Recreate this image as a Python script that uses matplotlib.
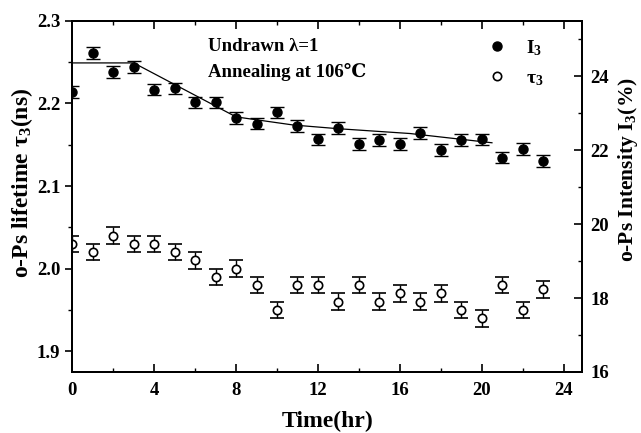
import numpy as np
import matplotlib
matplotlib.use("Agg")
import matplotlib.pyplot as plt
from matplotlib.lines import Line2D
from matplotlib.ticker import MultipleLocator

# ---- data ----
time_hr = [0, 1, 2, 3, 4, 5, 6, 7, 8, 9, 10, 11, 12, 13, 14, 15, 16, 17, 18, 19, 20, 21, 22, 23]
tau3 = [2.030, 2.020, 2.040, 2.030, 2.030, 2.020, 2.010, 1.990, 2.000, 1.980, 1.950, 1.980,
        1.980, 1.960, 1.980, 1.960, 1.970, 1.960, 1.970, 1.950, 1.940, 1.980, 1.950, 1.975]
tau3_err = [0.01] * 24
I3 = [23.58, 24.63, 24.12, 24.25, 23.64, 23.67, 23.29, 23.29, 22.87, 22.72, 23.02, 22.66,
      22.29, 22.59, 22.16, 22.27, 22.16, 22.47, 22.00, 22.27, 22.29, 21.80, 22.03, 21.70]
I3_err = [0.16] * 24

# fitted guide line through I3
fit_t = [0, 3, 8, 10.8, 13, 16.5, 20.5]
fit_I3 = [24.36, 24.36, 22.90, 22.68, 22.58, 22.45, 22.20]

# ---- style ----
plt.rcParams['font.family'] = ['Liberation Serif', 'DejaVu Serif']
plt.rcParams['font.weight'] = 'bold'
plt.rcParams['mathtext.fontset'] = 'custom'
plt.rcParams['mathtext.rm'] = 'Liberation Serif:bold'
plt.rcParams['mathtext.it'] = 'Liberation Serif:bold'
plt.rcParams['mathtext.bf'] = 'Liberation Serif:bold'

fig = plt.figure(figsize=(6.41, 4.33), dpi=100)
ax = fig.add_axes([0.1128, 0.141, 0.908 - 0.1128, 0.952 - 0.141])
ax2 = ax.twinx()

# tau3 (open circles, left axis)
ax.errorbar(time_hr, tau3, yerr=tau3_err, fmt='o', mfc='white', mec='black', mew=1.2,
            ms=6, ecolor='black', elinewidth=1.0, capsize=5, capthick=1.0, zorder=3)

# I3 (filled circles, right axis)
ax2.errorbar(time_hr, I3, yerr=I3_err, fmt='o', color='black', ms=6.5,
             ecolor='black', elinewidth=1.0, capsize=5, capthick=1.0, zorder=3)
ax2.plot(fit_t, fit_I3, color='black', lw=0.9, zorder=2)

# axes ranges & ticks
ax.set_xlim(0, 24.9)
ax.set_ylim(1.875, 2.3)
ax2.set_ylim(16, 25.5)

ax.xaxis.set_major_locator(MultipleLocator(4))
ax.xaxis.set_minor_locator(MultipleLocator(2))
ax.yaxis.set_major_locator(MultipleLocator(0.1))
ax.yaxis.set_minor_locator(MultipleLocator(0.05))
ax2.yaxis.set_major_locator(MultipleLocator(2))
ax2.yaxis.set_minor_locator(MultipleLocator(1))
ax.yaxis.set_major_formatter(plt.FormatStrFormatter('%.1f'))

ax.tick_params(axis='x', which='both', direction='in', top=True, labelsize=13.5, pad=7)
ax.tick_params(axis='x', which='major', length=6, width=1.2)
ax.tick_params(axis='x', which='minor', length=3, width=1.0)
ax.tick_params(axis='y', which='both', direction='out', labelsize=13.5)
ax.tick_params(axis='y', which='major', length=5, width=1.2)
ax.tick_params(axis='y', which='minor', length=3, width=1.0)
ax2.tick_params(axis='y', which='both', direction='in', labelsize=13.5, pad=6)
ax2.tick_params(axis='y', which='major', length=6, width=1.2)
ax2.tick_params(axis='y', which='minor', length=3, width=1.0)

for a in (ax, ax2):
    for s in a.spines.values():
        s.set_linewidth(1.4)

ax.set_xlabel('Time(hr)', fontsize=17, fontweight='bold', labelpad=9)
ax.set_ylabel('o-Ps lifetime τ$_{3}$(ns)', fontsize=17, fontweight='bold')
ax.yaxis.set_label_coords(-0.073, 0.538)
ax2.set_ylabel('o-Ps Intensity I$_{3}$(%)', fontsize=15.5, fontweight='bold')
ax2.yaxis.set_label_coords(1.066, 0.575)

# annotations
ax.text(0.266, 0.926, 'Undrawn λ=1', transform=ax.transAxes, fontsize=13.5,
        fontweight='bold', va='center', ha='left')
ax.text(0.266, 0.855, 'Annealing at 106℃', transform=ax.transAxes, fontsize=13.5,
        fontweight='bold', va='center', ha='left')

handles = [Line2D([], [], ls='none', marker='o', color='black', ms=6.5),
           Line2D([], [], ls='none', marker='o', mfc='white', mec='black', mew=1.2, ms=6)]
ax2.legend(handles, ['I$_{3}$', 'τ$_{3}$'], loc='upper left',
           bbox_to_anchor=(0.78, 1.0), frameon=False, fontsize=14,
           handletextpad=1.0, labelspacing=0.6, handlelength=1.0)

fig.savefig('out.png', dpi=100)
